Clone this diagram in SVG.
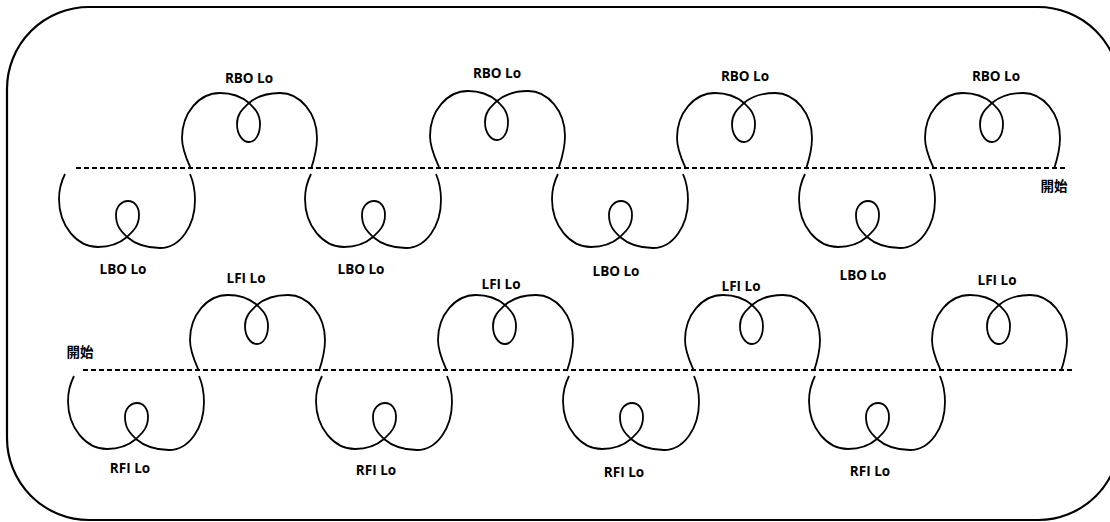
<svg xmlns="http://www.w3.org/2000/svg" xmlns:xlink="http://www.w3.org/1999/xlink" width="1110" height="522" viewBox="0 0 1110 522">
<style>
.frame{fill:none;stroke:#000;stroke-width:2.2}
.dash{fill:none;stroke:#000;stroke-width:2;stroke-dasharray:5 3}
.loop{fill:none;stroke:#000;stroke-width:1.8}
.lbl{font-family:"Open Sans","Liberation Sans",sans-serif;font-weight:bold;font-size:13.5px;text-anchor:middle;fill:#000}
.cjk{font-family:"Noto Sans CJK TC","Noto Sans CJK SC",sans-serif;font-weight:bold;font-size:13.5px;text-anchor:middle;fill:#000}
</style>
<defs>
<path id="up" class="loop" d="M -58,1 C -62,-8 -67,-18 -67,-30 C -67,-55 -50,-75 -29,-75 C -18,-75 -7,-71 0,-65 C 5,-60 11,-55 11,-44 C 11,-33 6,-26 0,-26 C -6,-26 -12,-33 -12,-44 C -12,-55 -5,-60 0,-65 C 7,-71 18,-75 31,-75 C 51,-75 68,-55 68,-30 C 68,-18 65,-8 62,1"/>
<path id="down" class="loop" d="M -62,6 C -65,12 -68,20 -68,31 C -68,58 -50,79 -29,79 C -17,79 -7,75 0,69 C 5,64 12,59 12,47 C 12,38 7,33 1,33 C -5,33 -11,38 -11,47 C -11,59 -5,64 0,69 C 7,75 19,80 33,80 C 53,80 68,58 68,32 C 68,21 66,13 63,6"/>
</defs>
<rect class="frame" x="7" y="7" width="1113" height="513" rx="82" ry="82"/>
<g id="connectors">
<line class="dash" x1="76" y1="168" x2="1065" y2="168"/>
<line class="dash" x1="83" y1="370" x2="1073" y2="370"/>
</g>
<g id="start-top"><text class="cjk" x="1054" y="191">開始</text></g>
<g id="start-bottom"><text class="cjk" x="80" y="357">開始</text></g>
<g id="rbo1"><use xlink:href="#up" transform="translate(249,168)"/><text class="lbl" x="249" y="83">RBO Lo</text></g>
<g id="rbo2"><use xlink:href="#up" transform="translate(497,166)"/><text class="lbl" x="497" y="78">RBO Lo</text></g>
<g id="rbo3"><use xlink:href="#up" transform="translate(744,168)"/><text class="lbl" x="745" y="81">RBO Lo</text></g>
<g id="rbo4"><use xlink:href="#up" transform="translate(992,168)"/><text class="lbl" x="996" y="81">RBO Lo</text></g>
<g id="lbo1"><use xlink:href="#down" transform="translate(127,168)"/><text class="lbl" x="123" y="274">LBO Lo</text></g>
<g id="lbo2"><use xlink:href="#down" transform="translate(373,168)"/><text class="lbl" x="361" y="274">LBO Lo</text></g>
<g id="lbo3"><use xlink:href="#down" transform="translate(620,168)"/><text class="lbl" x="616" y="276">LBO Lo</text></g>
<g id="lbo4"><use xlink:href="#down" transform="translate(867,168)"/><text class="lbl" x="863" y="280">LBO Lo</text></g>
<g id="lfi1"><use xlink:href="#up" transform="translate(257,370)"/><text class="lbl" x="246" y="283">LFI Lo</text></g>
<g id="lfi2"><use xlink:href="#up" transform="translate(505,370)"/><text class="lbl" x="501" y="289">LFI Lo</text></g>
<g id="lfi3"><use xlink:href="#up" transform="translate(752,370)"/><text class="lbl" x="741" y="291">LFI Lo</text></g>
<g id="lfi4"><use xlink:href="#up" transform="translate(999,370)"/><text class="lbl" x="997" y="285">LFI Lo</text></g>
<g id="rfi1"><use xlink:href="#down" transform="translate(136,370)"/><text class="lbl" x="130" y="473">RFI Lo</text></g>
<g id="rfi2"><use xlink:href="#down" transform="translate(384,370)"/><text class="lbl" x="376" y="475">RFI Lo</text></g>
<g id="rfi3"><use xlink:href="#down" transform="translate(631,370)"/><text class="lbl" x="624" y="477">RFI Lo</text></g>
<g id="rfi4"><use xlink:href="#down" transform="translate(877,370)"/><text class="lbl" x="870" y="476">RFI Lo</text></g>
</svg>
